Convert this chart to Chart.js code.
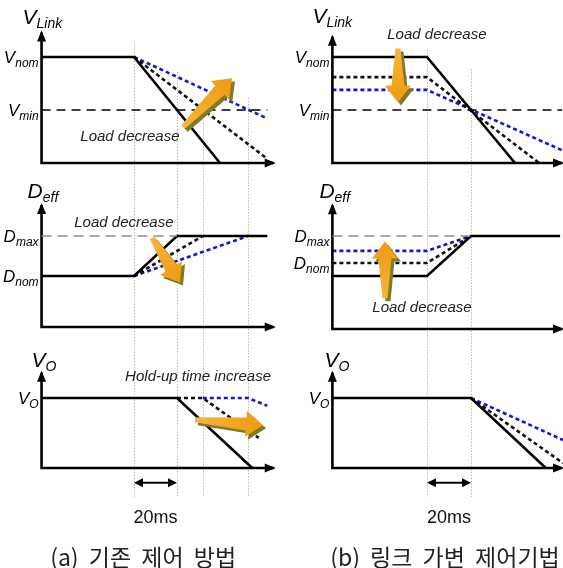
<!DOCTYPE html>
<html>
<head>
<meta charset="utf-8">
<script src="https://cdn.jsdelivr.net/npm/chart.js@4.4.0/dist/chart.umd.min.js"></script>
<style>
  html, body { margin: 0; padding: 0; background: #fff; }
  #wrap { position: relative; width: 563px; height: 568px; overflow: hidden; }
  #wrap canvas { position: absolute; top: 0; }
  #colA { left: 0; }
  #colB { left: 281px; }
</style>
</head>
<body>
<div id="wrap">
  <canvas id="colA" width="281" height="568"></canvas>
  <canvas id="colB" width="282" height="568"></canvas>
</div>
<script>
// time in ms, load step at t = 0
const tAxis = -43;
const tEndA = 65;
const tEndB = 61.4;
const marksA = [0, 20, 32, 53];
const marksB = [0, 20];
const span20 = [0, 20];

// reference levels (p.u.)
const vMinLevel = 0.5;
const dMaxLevel = 1;

// (a) conventional control
const linkA_solid = [[-43, 1], [0, 1], [40, 0]];
const linkA_mid = [[0, 1], [62, 0.04]];
const linkA_low = [[0, 1], [62, 0.42]];
const deffA_solid = [[-43, 0.56], [0, 0.56], [20, 1], [62, 1]];
const deffA_mid = [[0, 0.56], [32, 1]];
const deffA_low = [[0, 0.56], [53, 1]];
const voA_solid = [[-43, 1], [20, 1], [55, 0]];
const voA_mid = [[20, 1], [32, 1], [58, 0.43]];
const voA_low = [[32, 1], [53, 1], [62, 0.89]];

// (b) variable link control
const linkB_solid = [[-43, 1], [0, 1], [40, 0]];
const linkB_mid = [[-43, 0.81], [0, 0.81], [51, 0]];
const linkB_low = [[-43, 0.69], [0, 0.69], [61.4, 0.12]];
const deffB_solid = [[-43, 0.57], [0, 0.57], [20, 1], [60.5, 1]];
const deffB_mid = [[-43, 0.71], [0, 0.71], [20, 1]];
const deffB_low = [[-43, 0.84], [0, 0.84], [20, 1]];
const voB_solid = [[-43, 1], [20, 1], [54, 0]];
const voB_mid = [[20, 1], [61.8, 0.07]];
const voB_low = [[20, 1], [61.8, 0.4]];

const LATIN = '"Liberation Sans", Arial, sans-serif';
const STYLE = {
  axis: { borderColor: "#000", borderWidth: 2.6 },
  solid: { borderColor: "#000", borderWidth: 2.6 },
  mid: { borderColor: "#111", borderWidth: 2.6, borderDash: [4, 3] },
  low: { borderColor: "#1414d2", borderWidth: 2.6, borderDash: [4, 3] },
  ref: { borderColor: "#000", borderWidth: 1.3, borderDash: [9, 6] },
  refGray: { borderColor: "#8c8c8c", borderWidth: 1.3, borderDash: [10, 6] },
};

function series(points, axis, style) {
  return Object.assign({
    data: points.map(([x, y]) => ({ x, y })),
    yAxisID: axis,
    showLine: true,
    pointRadius: 0,
    tension: 0,
    fill: false,
    clip: false,
  }, style);
}

function drawSub(ctx, main, sub, x, y, size, subSize, align) {
  ctx.font = `italic ${size}px ${LATIN}`;
  const w1 = ctx.measureText(main).width;
  ctx.font = `italic ${subSize}px ${LATIN}`;
  const w2 = ctx.measureText(sub).width;
  const start = align === "right" ? x - w1 - w2 : x;
  ctx.textAlign = "left";
  ctx.textBaseline = "alphabetic";
  ctx.font = `italic ${size}px ${LATIN}`;
  ctx.fillText(main, start, y);
  ctx.font = `italic ${subSize}px ${LATIN}`;
  ctx.fillText(sub, start + w1, y + subSize * 0.3);
}

function head(ctx, x, y, ang, len, half) {
  ctx.beginPath();
  ctx.moveTo(x, y);
  ctx.lineTo(x - len * Math.cos(ang) + half * Math.sin(ang), y - len * Math.sin(ang) - half * Math.cos(ang));
  ctx.lineTo(x - len * Math.cos(ang) - half * Math.sin(ang), y - len * Math.sin(ang) + half * Math.cos(ang));
  ctx.closePath();
  ctx.fill();
}

function blockArrow(ctx, x1, y1, x2, y2) {
  const ang = Math.atan2(y2 - y1, x2 - x1);
  const len = Math.hypot(x2 - x1, y2 - y1);
  const hl = 17;
  const pts = [[0, -2.5], [len - hl, -6.5], [len - hl, -13], [len, 0], [len - hl, 13], [len - hl, 6.5], [0, 2.5]];
  const path = (ox, oy) => {
    ctx.beginPath();
    pts.forEach(([u, v], i) => {
      const px = x1 + ox + u * Math.cos(ang) - v * Math.sin(ang);
      const py = y1 + oy + u * Math.sin(ang) + v * Math.cos(ang);
      if (i) ctx.lineTo(px, py); else ctx.moveTo(px, py);
    });
    ctx.closePath();
  };
  ctx.fillStyle = "#7d7b24";
  path(3, 3);
  ctx.fill();
  const g = ctx.createLinearGradient(x1, y1, x2, y2);
  g.addColorStop(0, "#f6b53a");
  g.addColorStop(1, "#ee9a10");
  ctx.fillStyle = g;
  path(0, 0);
  ctx.fill();
}

function makeOverlay(cfg) {
  return {
    id: "schematic",
    beforeDatasetsDraw(chart) {
      const { ctx, scales } = chart;
      ctx.save();
      ctx.strokeStyle = "#9c9c9c";
      ctx.lineWidth = 1;
      ctx.setLineDash([1, 2]);
      cfg.marks.forEach((t, i) => {
        const px = Math.round(scales.x.getPixelForValue(t)) + 0.5;
        ctx.beginPath();
        ctx.moveTo(px, scales.link.getPixelForValue(cfg.markTops[i]));
        ctx.lineTo(px, scales.vo.getPixelForValue(-0.41));
        ctx.stroke();
      });
      ctx.restore();
    },
    afterDatasetsDraw(chart) {
      const { ctx, scales } = chart;
      const x = scales.x;
      const ax = x.getPixelForValue(tAxis);
      ctx.save();
      ctx.fillStyle = "#000";

      // axis arrowheads
      cfg.panels.forEach((p) => {
        const y = scales[p.id];
        head(ctx, ax, y.getPixelForValue(p.top) - 2, -Math.PI / 2, 11, 4.5);
        head(ctx, x.getPixelForValue(cfg.tEnd) + 2, y.getPixelForValue(0), 0, 11, 4.5);
      });

      // orange arrows
      cfg.arrows.forEach((a) => {
        const y = scales[a.panel];
        blockArrow(ctx, x.getPixelForValue(a.from[0]), y.getPixelForValue(a.from[1]),
          x.getPixelForValue(a.to[0]), y.getPixelForValue(a.to[1]));
      });

      ctx.fillStyle = "#000";
      // axis titles and level labels
      cfg.panels.forEach((p) => {
        const y = scales[p.id];
        drawSub(ctx, p.title[0], p.title[1], ax + p.titleDx, y.getPixelForValue(p.titleAt), 21, 14, "left");
        p.ticks.forEach(([v, main, sub]) => {
          drawSub(ctx, main, sub, ax - 3, y.getPixelForValue(v) + 6, 17, 12, "right");
        });
      });

      // notes
      ctx.fillStyle = "#222";
      cfg.notes.forEach((n) => {
        ctx.font = `italic ${n.size}px ${LATIN}`;
        ctx.textAlign = "center";
        ctx.textBaseline = "middle";
        ctx.fillText(n.text, x.getPixelForValue(n.t), scales[n.panel].getPixelForValue(n.v));
      });

      // 20 ms span
      const vo = scales.vo;
      const sy = vo.getPixelForValue(-0.21);
      const sx1 = x.getPixelForValue(span20[0]);
      const sx2 = x.getPixelForValue(span20[1]);
      ctx.fillStyle = "#000";
      ctx.strokeStyle = "#000";
      ctx.lineWidth = 2;
      ctx.beginPath();
      ctx.moveTo(sx1 + 4, sy);
      ctx.lineTo(sx2 - 4, sy);
      ctx.stroke();
      head(ctx, sx1, sy, Math.PI, 9, 4.5);
      head(ctx, sx2, sy, 0, 9, 4.5);
      ctx.font = `18px ${LATIN}`;
      ctx.textAlign = "center";
      ctx.textBaseline = "middle";
      ctx.fillStyle = "#111";
      ctx.fillText("20ms", (sx1 + sx2) / 2, vo.getPixelForValue(-0.72));

      // caption
      ctx.font = '23px "Noto Sans CJK KR", sans-serif';
      ctx.textAlign = "left";
      if ("wordSpacing" in ctx) ctx.wordSpacing = "5px";
      ctx.fillStyle = "#222";
      ctx.fillText(cfg.caption, x.getPixelForValue(cfg.captionT), vo.getPixelForValue(-1.27));
      ctx.restore();
    },
  };
}

function renderColumn(canvasId, layout, datasets, cfg) {
  const canvas = document.getElementById(canvasId);
  const w = canvas.width, h = canvas.height;
  const yRange = (p) => ({ type: "linear", display: false, min: (p.base - h) / p.ppu, max: p.base / p.ppu });
  return new Chart(canvas.getContext("2d"), {
    type: "scatter",
    data: { datasets },
    options: {
      responsive: false,
      animation: false,
      devicePixelRatio: 1,
      layout: { padding: 0 },
      plugins: { legend: { display: false }, tooltip: { enabled: false } },
      scales: {
        x: { type: "linear", display: false, min: -layout.x0 / layout.pxPerMs, max: (w - layout.x0) / layout.pxPerMs },
        link: yRange(layout.link),
        deff: yRange(layout.deff),
        vo: yRange(layout.vo),
      },
    },
    plugins: [makeOverlay(cfg)],
  });
}

function axisPath(tEnd, top) {
  return [[tAxis, top], [tAxis, 0], [tEnd, 0]];
}

// column (a)
renderColumn("colA",
  { x0: 134, pxPerMs: 2.15, link: { base: 163, ppu: 106 }, deff: { base: 327, ppu: 91 }, vo: { base: 468, ppu: 70 } },
  [
    series([[tAxis, vMinLevel], [62, vMinLevel]], "link", STYLE.ref),
    series([[tAxis, dMaxLevel], [20, dMaxLevel]], "deff", STYLE.refGray),
    series(axisPath(tEndA, 1.23), "link", STYLE.axis),
    series(axisPath(tEndA, 1.34), "deff", STYLE.axis),
    series(axisPath(tEndA, 1.36), "vo", STYLE.axis),
    series(linkA_solid, "link", STYLE.solid),
    series(linkA_mid, "link", STYLE.mid),
    series(linkA_low, "link", STYLE.low),
    series(deffA_solid, "deff", STYLE.solid),
    series(deffA_mid, "deff", STYLE.mid),
    series(deffA_low, "deff", STYLE.low),
    series(voA_solid, "vo", STYLE.solid),
    series(voA_mid, "vo", STYLE.mid),
    series(voA_low, "vo", STYLE.low),
  ],
  {
    tEnd: tEndA,
    marks: marksA,
    markTops: [1.13, 0.86, 0.41, 0.61],
    panels: [
      { id: "link", top: 1.23, title: ["V", "Link"], titleDx: -19, titleAt: 1.31, ticks: [[1, "V", "nom"], [vMinLevel, "V", "min"]] },
      { id: "deff", top: 1.34, title: ["D", "eff"], titleDx: -14, titleAt: 1.42, ticks: [[dMaxLevel, "D", "max"], [0.56, "D", "nom"]] },
      { id: "vo", top: 1.36, title: ["V", "O"], titleDx: -10, titleAt: 1.44, ticks: [[1, "V", "O"]] },
    ],
    arrows: [
      { panel: "link", from: [22.8, 0.34], to: [45.6, 0.8] },
      { panel: "deff", from: [8.4, 0.98], to: [21.4, 0.49] },
      { panel: "vo", from: [28.4, 0.69], to: [60, 0.61] },
    ],
    notes: [
      { panel: "link", t: -1.9, v: 0.245, text: "Load decrease", size: 15 },
      { panel: "deff", t: -4.7, v: 1.14, text: "Load decrease", size: 15 },
      { panel: "vo", t: 29.8, v: 1.3, text: "Hold-up time increase", size: 15 },
    ],
    caption: "(a) 기존 제어 방법",
    captionT: -39,
  });

// column (b)
renderColumn("colB",
  { x0: 146, pxPerMs: 2.2, link: { base: 163, ppu: 106 }, deff: { base: 329, ppu: 93 }, vo: { base: 468, ppu: 70 } },
  [
    series([[tAxis, vMinLevel], [tEndB, vMinLevel]], "link", STYLE.ref),
    series([[tAxis, dMaxLevel], [20, dMaxLevel]], "deff", STYLE.refGray),
    series(axisPath(tEndB, 1.19), "link", STYLE.axis),
    series(axisPath(tEndB, 1.33), "deff", STYLE.axis),
    series(axisPath(tEndB, 1.36), "vo", STYLE.axis),
    series(linkB_solid, "link", STYLE.solid),
    series(linkB_mid, "link", STYLE.mid),
    series(linkB_low, "link", STYLE.low),
    series(deffB_solid, "deff", STYLE.solid),
    series(deffB_mid, "deff", STYLE.mid),
    series(deffB_low, "deff", STYLE.low),
    series(voB_solid, "vo", STYLE.solid),
    series(voB_mid, "vo", STYLE.mid),
    series(voB_low, "vo", STYLE.low),
  ],
  {
    tEnd: tEndB,
    marks: marksB,
    markTops: [1.07, 0.88],
    panels: [
      { id: "link", top: 1.19, title: ["V", "Link"], titleDx: -20, titleAt: 1.32, ticks: [[1, "V", "nom"], [vMinLevel, "V", "min"]] },
      { id: "deff", top: 1.33, title: ["D", "eff"], titleDx: -13, titleAt: 1.41, ticks: [[dMaxLevel, "D", "max"], [0.71, "D", "nom"]] },
      { id: "vo", top: 1.36, title: ["V", "O"], titleDx: -8, titleAt: 1.44, ticks: [[1, "V", "O"]] },
    ],
    arrows: [
      { panel: "link", from: [-13.2, 1.08], to: [-13.2, 0.57] },
      { panel: "deff", from: [-19.1, 0.33], to: [-19.1, 0.94] },
    ],
    notes: [
      { panel: "link", t: 4.5, v: 1.21, text: "Load decrease", size: 15 },
      { panel: "deff", t: -2.3, v: 0.23, text: "Load decrease", size: 15 },
    ],
    caption: "(b) 링크 가변 제어기법",
    captionT: -44,
  });
</script>
</body>
</html>
